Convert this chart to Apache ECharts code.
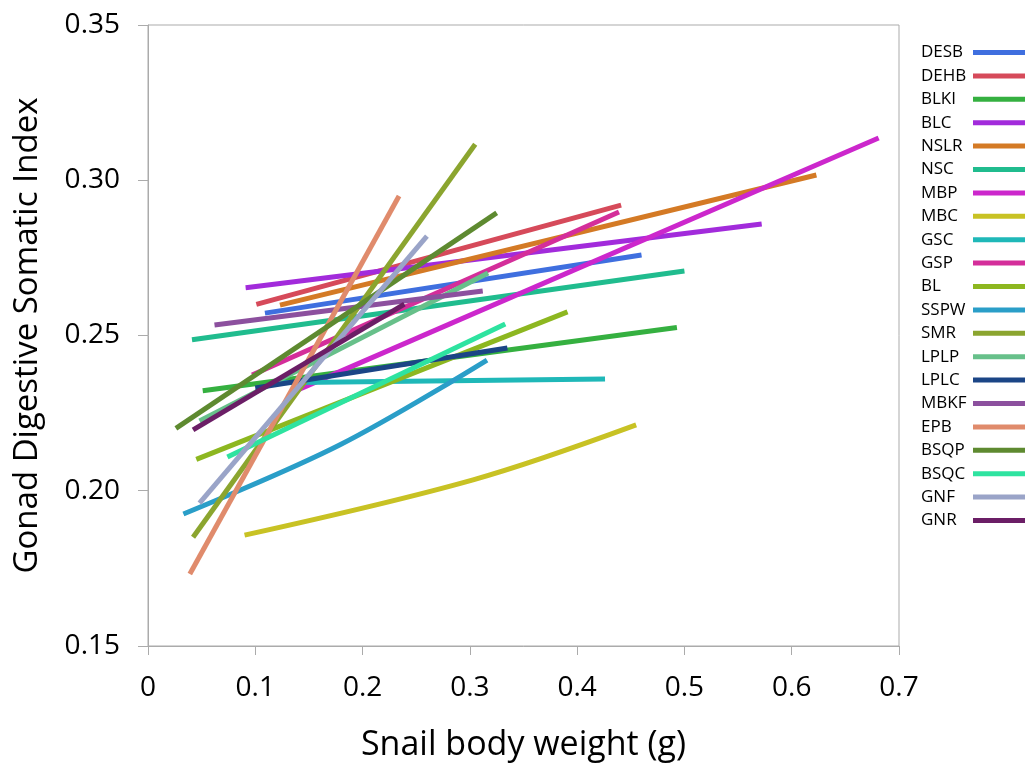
<!DOCTYPE html>
<html>
<head>
<meta charset="utf-8">
<script src="https://cdn.jsdelivr.net/npm/echarts@6/dist/echarts.min.js"></script>
<style>
html,body{margin:0;padding:0;background:#fff;}
#chart{width:1029px;height:771px;}
</style>
</head>
<body>
<div id="chart"></div>
<script>
// Series names (legend order)
const names = ['DESB','DEHB','BLKI','BLC','NSLR','NSC','MBP','MBC','GSC','GSP','BL','SSPW','SMR','LPLP','LPLC','MBKF','EPB','BSQP','BSQC','GNF','GNR'];

// Trend lines: [body weight (g), GSI] points
const DESB = [[0.109,0.2572],[0.460,0.2759]];
const DEHB = [[0.101,0.2600],[0.441,0.2920]];
const BLKI = [[0.051,0.2322],[0.493,0.2526]];
const BLC  = [[0.091,0.2654],[0.572,0.2859]];
const NSLR = [[0.123,0.2598],[0.623,0.3017]];
const NSC  = [[0.041,0.2486],[0.500,0.2708]];
const MBP  = [[0.139,0.2324],[0.681,0.3136]];
const MBC  = [[0.090,0.1857],[0.303,0.2035],[0.455,0.2212]];
const GSC  = [[0.120,0.2348],[0.426,0.2360]];
const GSP  = [[0.097,0.2373],[0.439,0.2898]];
const BL   = [[0.045,0.2101],[0.391,0.2576]];
const SSPW = [[0.033,0.1925],[0.179,0.2148],[0.316,0.2421]];
const SMR  = [[0.042,0.1850],[0.305,0.3116]];
const LPLP = [[0.048,0.2225],[0.317,0.2701]];
const LPLC = [[0.100,0.2331],[0.335,0.2460]];
const MBKF = [[0.062,0.2534],[0.312,0.2643]];
const EPB  = [[0.039,0.1732],[0.234,0.2949]];
const BSQP = [[0.026,0.2201],[0.325,0.2895]];
const BSQC = [[0.074,0.2109],[0.333,0.2537]];
const GNF  = [[0.048,0.1960],[0.260,0.2820]];
const GNR  = [[0.042,0.2196],[0.239,0.2601]];

const lineData = [DESB,DEHB,BLKI,BLC,NSLR,NSC,MBP,MBC,GSC,GSP,BL,SSPW,SMR,LPLP,LPLC,MBKF,EPB,BSQP,BSQC,GNF,GNR];

const colors = ['#3F6FDF','#D64A5A','#35B040','#A22BDB','#D47A25','#20BC8E','#CC27CC','#C8C224','#1FB8B8','#D42E9A','#8DB720','#2A9EC8','#8BA52F','#67C08A','#1B4586','#8C509E','#E08B6C','#5E8A30','#2EE3A0','#9AA4C8','#6B1E66'];

// Axis ticks
const xTicks = {min:0, max:0.7, step:0.1};
const yTicks = {min:0.15, max:0.35, step:0.05};

const FONT = 'Open Sans';

const series = names.map((n,i)=>({
  name:n,
  type:'line',
  data:lineData[i],
  showSymbol:false,
  symbol:'none',
  smooth: lineData[i].length > 2 ? 0.35 : false,
  lineStyle:{width:5, color:colors[i], cap:'butt'},
  itemStyle:{color:colors[i]},
  animation:false,
  z: 2
}));

const chart = echarts.init(document.getElementById('chart'), null, {renderer:'canvas'});
chart.setOption({
  animation:false,
  color:colors,
  grid:{left:148, right:130, top:25, bottom:125, show:true, borderColor:'#ABABAB', borderWidth:1, backgroundColor:'transparent'},
  legend:{
    orient:'vertical',
    left:916,
    top:39,
    align:'right',
    itemWidth:52,
    itemHeight:5,
    itemGap:6.4,
    icon:'rect',
    selectedMode:false,
    data:names,
    formatter:n=>'{t|'+n+'}',
    textStyle:{fontFamily:FONT, fontSize:17, color:'#000', lineHeight:17,
      rich:{t:{width:47, align:'left', fontFamily:FONT, fontSize:17, color:'#000', lineHeight:17}}}
  },
  xAxis:{
    type:'value',
    min:xTicks.min, max:xTicks.max, interval:xTicks.step,
    name:'Snail body weight (g)',
    nameLocation:'middle',
    nameGap:82,
    nameTextStyle:{fontFamily:FONT, fontSize:34, color:'#000'},
    axisLine:{show:true, lineStyle:{color:'#ABABAB', width:1}},
    axisTick:{show:true, inside:false, length:9, lineStyle:{color:'#ABABAB'}},
    axisLabel:{fontFamily:FONT, fontSize:28, color:'#000', margin:28,
      formatter:v=> v===0 ? '0' : v.toFixed(1)},
    splitLine:{show:false}
  },
  yAxis:{
    type:'value',
    min:yTicks.min, max:yTicks.max, interval:yTicks.step,
    name:'Gonad Digestive Somatic Index',
    nameLocation:'middle',
    nameGap:104,
    nameTextStyle:{fontFamily:FONT, fontSize:33, color:'#000'},
    axisLine:{show:true, lineStyle:{color:'#ABABAB', width:1}},
    axisTick:{show:true, inside:false, length:10, lineStyle:{color:'#ABABAB'}},
    axisLabel:{fontFamily:FONT, fontSize:28, color:'#000', margin:28,
      formatter:v=> v.toFixed(2)},
    splitLine:{show:false}
  },
  series:series
});
</script>
</body>
</html>
